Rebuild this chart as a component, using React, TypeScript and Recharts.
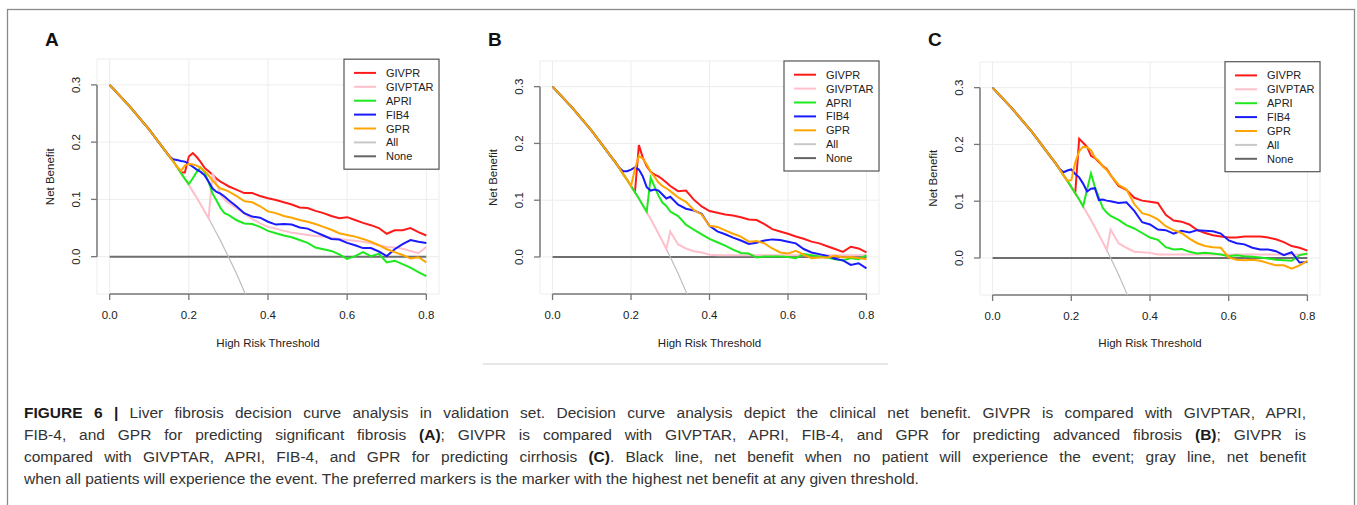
import React from "react";
import { LineChart, Line, XAxis, YAxis, CartesianGrid, ReferenceLine } from "recharts";

const FONT = "'Liberation Sans', Arial, Helvetica, sans-serif";

// high risk thresholds shared by every curve
const thresholds = [
  0, 0.05, 0.1, 0.15, 0.16, 0.17, 0.18, 0.19, 0.2, 0.21, 0.22, 0.23, 0.24, 0.25, 0.26, 0.27,
  0.28, 0.29, 0.3, 0.32, 0.34, 0.36, 0.38, 0.4, 0.42, 0.44, 0.46, 0.48, 0.5, 0.52, 0.54, 0.56,
  0.58, 0.6, 0.62, 0.64, 0.66, 0.68, 0.7, 0.72, 0.74, 0.76, 0.78, 0.8,
];

// "All" (treat everyone) curve, same in the three panels
const allValues = [
  0.3, 0.263, 0.222, 0.176, 0.167, 0.157, 0.146, 0.136, 0.125, 0.114, 0.103, 0.091, 0.079, 0.067,
  0.054, 0.041, 0.028, 0.014, 0.0, -0.029, -0.061, -0.094, null, null, null, null, null, null,
  null, null, null, null, null, null, null, null, null, null, null, null, null, null, null, null,
];

// "None" curve
const noneX = [0, 0.8];
const noneY = [0, 0];

// panel A - significant fibrosis
const aGIVPR = [
  0.3, 0.263, 0.222, 0.176, 0.167, 0.157, 0.147, 0.147, 0.175, 0.181, 0.174, 0.165, 0.155, 0.149,
  0.143, 0.136, 0.131, 0.127, 0.123, 0.117, 0.111, 0.111, 0.106, 0.102, 0.099, 0.095, 0.091,
  0.086, 0.085, 0.08, 0.076, 0.071, 0.067, 0.069, 0.064, 0.059, 0.055, 0.05, 0.04, 0.046, 0.046,
  0.05, 0.043, 0.037,
];
const aGIVPTAR = [
  0.3, 0.263, 0.222, 0.176, 0.167, 0.157, 0.146, 0.136, 0.125, 0.114, 0.103, 0.091, 0.079, 0.067,
  0.146, 0.127, 0.108, 0.1, 0.094, 0.085, 0.075, 0.066, 0.058, 0.052, 0.049, 0.045, 0.042, 0.04,
  0.038, 0.036, 0.035, 0.033, 0.031, 0.029, 0.028, 0.026, 0.024, 0.02, 0.017, 0.016, 0.014, 0.01,
  0.006, 0.017,
];
const aAPRI = [
  0.3, 0.263, 0.222, 0.176, 0.167, 0.157, 0.146, 0.136, 0.127, 0.137, 0.148, 0.156, 0.147, 0.13,
  0.11, 0.098, 0.085, 0.076, 0.073, 0.064, 0.058, 0.057, 0.052, 0.045, 0.041, 0.037, 0.034, 0.029,
  0.024, 0.016, 0.013, 0.01, 0.004, -0.004, 0.001, 0.008, 0.001, 0.005, -0.01, -0.007, -0.013,
  -0.019, -0.027, -0.034,
];
const aFIB4 = [
  0.3, 0.263, 0.222, 0.176, 0.17, 0.169, 0.167, 0.166, 0.162, 0.157, 0.152, 0.148, 0.142, 0.131,
  0.119, 0.113, 0.11, 0.105, 0.099, 0.088, 0.076, 0.07, 0.068, 0.061, 0.056, 0.057, 0.056, 0.051,
  0.049, 0.043, 0.037, 0.031, 0.03, 0.024, 0.02, 0.015, 0.015, 0.009, 0.001, 0.013, 0.022, 0.029,
  0.026, 0.024,
];
const aGPR = [
  0.3, 0.263, 0.222, 0.176, 0.167, 0.157, 0.15, 0.159, 0.162, 0.161, 0.159, 0.155, 0.149, 0.142,
  0.133, 0.125, 0.119, 0.117, 0.114, 0.106, 0.097, 0.095, 0.088, 0.079, 0.076, 0.071, 0.068,
  0.064, 0.061, 0.057, 0.052, 0.047, 0.041, 0.038, 0.035, 0.031, 0.026, 0.02, 0.013, 0.008, 0.003,
  -0.003, -0.001, -0.01,
];

// panel B - advanced fibrosis
const bGIVPR = [
  0.3, 0.263, 0.222, 0.176, 0.167, 0.157, 0.146, 0.136, 0.125, 0.114, 0.197, 0.175, 0.16, 0.15,
  0.145, 0.142, 0.137, 0.131, 0.125, 0.116, 0.117, 0.101, 0.089, 0.081, 0.078, 0.075, 0.073, 0.07,
  0.066, 0.065, 0.058, 0.049, 0.045, 0.041, 0.036, 0.032, 0.027, 0.024, 0.019, 0.014, 0.009,
  0.018, 0.015, 0.008,
];
const bGIVPTAR = [
  0.3, 0.263, 0.222, 0.176, 0.167, 0.157, 0.146, 0.136, 0.125, 0.114, 0.103, 0.091, 0.079, 0.067,
  0.054, 0.041, 0.028, 0.014, 0.045, 0.022, 0.015, 0.01, 0.008, 0.004, 0.003, 0.003, 0.003, 0.003,
  0.003, 0.003, 0.003, 0.003, 0.003, 0.003, 0.003, 0.003, 0.003, 0.003, 0.003, 0.003, 0.003,
  0.003, 0.003, 0.003,
];
const bAPRI = [
  0.3, 0.263, 0.222, 0.176, 0.167, 0.157, 0.146, 0.136, 0.125, 0.114, 0.103, 0.091, 0.08, 0.14,
  0.124, 0.108, 0.096, 0.09, 0.08, 0.072, 0.057, 0.048, 0.04, 0.032, 0.026, 0.02, 0.013, 0.007,
  0.006, -0.001, 0.001, 0.001, 0.001, 0.0, -0.002, 0.005, 0.003, 0.001, -0.001, -0.004, -0.006,
  -0.002, -0.004, 0.003,
];
const bFIB4 = [
  0.3, 0.263, 0.222, 0.176, 0.167, 0.157, 0.151, 0.151, 0.154, 0.158, 0.154, 0.142, 0.123, 0.117,
  0.119, 0.117, 0.11, 0.103, 0.106, 0.092, 0.085, 0.082, 0.076, 0.055, 0.045, 0.04, 0.034, 0.029,
  0.023, 0.025, 0.029, 0.031, 0.03, 0.027, 0.024, 0.014, 0.008, 0.005, 0.002, -0.003, -0.006,
  -0.014, -0.011, -0.02,
];
const bGPR = [
  0.3, 0.263, 0.222, 0.176, 0.167, 0.157, 0.146, 0.136, 0.125, 0.155, 0.178, 0.173, 0.163, 0.15,
  0.141, 0.131, 0.125, 0.121, 0.116, 0.105, 0.097, 0.083, 0.075, 0.055, 0.053, 0.047, 0.041,
  0.036, 0.027, 0.028, 0.024, 0.015, 0.008, 0.006, 0.011, 0.004, -0.002, -0.001, -0.001, 0.002,
  -0.001, 0.0, -0.002, -0.004,
];

// panel C - cirrhosis
const cGIVPR = [
  0.3, 0.263, 0.222, 0.176, 0.167, 0.157, 0.146, 0.136, 0.125, 0.114, 0.21, 0.203, 0.196, 0.18,
  0.176, 0.169, 0.162, 0.157, 0.146, 0.127, 0.12, 0.106, 0.101, 0.099, 0.097, 0.076, 0.066, 0.064,
  0.059, 0.049, 0.044, 0.04, 0.038, 0.036, 0.036, 0.038, 0.038, 0.038, 0.036, 0.033, 0.028,
  0.021, 0.018, 0.013,
];
const cGIVPTAR = [
  0.3, 0.263, 0.222, 0.176, 0.167, 0.157, 0.146, 0.136, 0.125, 0.114, 0.103, 0.091, 0.079, 0.067,
  0.054, 0.041, 0.028, 0.014, 0.05, 0.026, 0.018, 0.011, 0.01, 0.009, 0.006, 0.006, 0.006, 0.006,
  0.006, 0.006, 0.006, 0.006, 0.006, 0.006, 0.006, 0.006, 0.006, 0.006, 0.006, 0.006, 0.006,
  0.006, 0.006, 0.006,
];
const cAPRI = [
  0.3, 0.263, 0.222, 0.176, 0.167, 0.157, 0.146, 0.136, 0.125, 0.114, 0.103, 0.091, 0.12, 0.149,
  0.125, 0.107, 0.088, 0.08, 0.074, 0.067, 0.058, 0.052, 0.044, 0.036, 0.032, 0.019, 0.015, 0.016,
  0.011, 0.008, 0.009, 0.008, 0.006, 0.003, 0.005, 0.003, 0.002, 0.001, -0.001, -0.003, -0.004,
  -0.005, 0.005, 0.008,
];
const cFIB4 = [
  0.3, 0.263, 0.222, 0.176, 0.167, 0.157, 0.151, 0.154, 0.156, 0.148, 0.142, 0.131, 0.117, 0.122,
  0.123, 0.102, 0.103, 0.101, 0.1, 0.097, 0.098, 0.083, 0.063, 0.059, 0.05, 0.049, 0.043, 0.048,
  0.045, 0.049, 0.048, 0.047, 0.043, 0.031, 0.026, 0.024, 0.018, 0.015, 0.015, 0.012, 0.005, 0.01,
  -0.008, -0.007,
];
const cGPR = [
  0.3, 0.263, 0.222, 0.176, 0.167, 0.157, 0.146, 0.136, 0.137, 0.168, 0.188, 0.196, 0.195, 0.19,
  0.177, 0.171, 0.161, 0.155, 0.146, 0.129, 0.121, 0.095, 0.079, 0.075, 0.068, 0.056, 0.049, 0.044,
  0.034, 0.026, 0.021, 0.019, 0.018, 0.001, -0.003, -0.004, -0.003, -0.005, -0.009, -0.013,
  -0.013, -0.019, -0.013, -0.005,
];

const xTicks = [0, 0.2, 0.4, 0.6, 0.8];
const yTicks = [0, 0.1, 0.2, 0.3];
const X_DOMAIN = [-0.032, 0.832];
const Y_DOMAIN = [-0.0652, 0.3452];

const MODELS = [
  { key: "GIVPR", color: "#ff1a1a" },
  { key: "GIVPTAR", color: "#ffc0cb" },
  { key: "APRI", color: "#1ee81e" },
  { key: "FIB4", color: "#1a1aff" },
  { key: "GPR", color: "#ffa500" },
];
const LEGEND = [...MODELS, { key: "All", color: "#c8c8c8" }, { key: "None", color: "#666666" }];

const PANELS = [
  { label: "A", left: 97, top: 59.2, w: 342, h: 235, series: [aGIVPR, aGIVPTAR, aAPRI, aFIB4, aGPR] },
  { label: "B", left: 540, top: 61, w: 339, h: 233, series: [bGIVPR, bGIVPTAR, bAPRI, bFIB4, bGPR] },
  { label: "C", left: 980, top: 61.7, w: 340, h: 233, series: [cGIVPR, cGIVPTAR, cAPRI, cFIB4, cGPR] },
];

function RotTick(props: any) {
  const { x, y, payload } = props;
  return (
    <text x={x} y={y} transform={`rotate(-90 ${x} ${y})`} textAnchor="middle" fontSize={11.5} fill="#222" fontFamily={FONT}>
      {Number(payload.value).toFixed(1)}
    </text>
  );
}

function Panel({ p }: { p: (typeof PANELS)[number] }) {
  const rows = thresholds.map((t, i) => {
    const r: Record<string, number | null> = { t, All: allValues[i] };
    MODELS.forEach((m, j) => (r[m.key] = p.series[j][i]));
    return r;
  });
  const noneRows = noneX.map((t, i) => ({ t, None: noneY[i] }));

  return (
    <div style={{ position: "absolute", left: p.left - 70, top: p.top - 45, fontFamily: FONT }}>
      <LineChart width={p.w + 100} height={p.h + 126} data={rows} margin={{ top: 45, right: 30, left: 30, bottom: 51 }}>
        <CartesianGrid stroke="#ededed" strokeWidth={1} />
        <XAxis
          type="number"
          dataKey="t"
          domain={X_DOMAIN}
          ticks={xTicks}
          allowDataOverflow
          axisLine={false}
          tickLine={{ stroke: "#777", strokeWidth: 1.3 }}
          tickSize={6}
          tickMargin={11}
          height={30}
          tick={{ fontSize: 11.5, fill: "#222", fontFamily: FONT }}
          tickFormatter={(v: number) => v.toFixed(1)}
        />
        <YAxis
          type="number"
          domain={Y_DOMAIN}
          ticks={yTicks}
          allowDataOverflow
          axisLine={false}
          tickLine={{ stroke: "#777", strokeWidth: 1.3 }}
          tickSize={6}
          tickMargin={11}
          width={40}
          tick={<RotTick />}
        />
        <ReferenceLine
          segment={[{ x: 0, y: Y_DOMAIN[0] }, { x: 0.8, y: Y_DOMAIN[0] }]}
          stroke="#777"
          strokeWidth={1.5}
          ifOverflow="visible"
        />
        <ReferenceLine
          segment={[{ x: X_DOMAIN[0], y: 0 }, { x: X_DOMAIN[0], y: 0.3 }]}
          stroke="#777"
          strokeWidth={1.5}
          ifOverflow="visible"
        />
        <Line data={noneRows} dataKey="None" type="linear" stroke="#6e6e6e" strokeWidth={2} dot={false} isAnimationActive={false} />
        <Line dataKey="All" type="linear" stroke="#bdbdbd" strokeWidth={1.2} dot={false} isAnimationActive={false} />
        {MODELS.map((m) => (
          <Line key={m.key} dataKey={m.key} type="linear" stroke={m.color} strokeWidth={2} dot={false} isAnimationActive={false} />
        ))}
      </LineChart>
    </div>
  );
}

function Overlay() {
  return (
    <svg width={1357} height={505} style={{ position: "absolute", left: 0, top: 0, pointerEvents: "none" }} fontFamily={FONT}>
      <rect x={7.5} y={9.5} width={1347} height={620} fill="none" stroke="#8a8a8a" strokeWidth={1.3} />
      <line x1={483} y1={364} x2={888} y2={364} stroke="#cfcfcf" strokeWidth={1.2} />
      {PANELS.map((p) => {
        const lx = p.left + p.w - 95;
        return (
          <g key={p.label}>
            <text x={p.left - 52} y={45.7} fontSize={19} fontWeight="bold" fill="#111">
              {p.label}
            </text>
            <text
              transform={`translate(${p.left - 43.3}, ${p.top + p.h / 2}) rotate(-90)`}
              textAnchor="middle"
              fontSize={11.5}
              fill="#222"
            >
              Net Benefit
            </text>
            <text x={p.left + p.w / 2} y={347} textAnchor="middle" fontSize={11.5} fill="#222">
              High Risk Threshold
            </text>
            <rect x={lx} y={p.top} width={95} height={110} fill="#fff" stroke="#555" strokeWidth={1.2} />
            {LEGEND.map((l, i) => {
              const y = p.top + 13.7 + i * 13.9;
              return (
                <g key={l.key}>
                  <line x1={lx + 10} y1={y} x2={lx + 32} y2={y} stroke={l.color} strokeWidth={2} />
                  <text x={lx + 42} y={y + 4} fontSize={11} fill="#222">
                    {l.key}
                  </text>
                </g>
              );
            })}
          </g>
        );
      })}
    </svg>
  );
}

function Caption() {
  const b: React.CSSProperties = { fontWeight: "bold", color: "#1a1a1a" };
  const line: React.CSSProperties = {
    height: 21.8,
    lineHeight: "21.8px",
    whiteSpace: "nowrap",
  };
  const just: React.CSSProperties = { ...line, textAlign: "justify", textAlignLast: "justify", whiteSpace: "normal" };
  return (
    <div style={{ position: "absolute", left: 24, top: 402.3, width: 1282, fontSize: 15.5, color: "#333", fontFamily: FONT }}>
      <div style={just}>
        <span style={b}>FIGURE 6 |</span> Liver fibrosis decision curve analysis in validation set. Decision curve analysis depict the clinical net benefit. GIVPR is compared with GIVPTAR, APRI,
      </div>
      <div style={just}>
        FIB-4, and GPR for predicting significant fibrosis <span style={b}>(A)</span>; GIVPR is compared with GIVPTAR, APRI, FIB-4, and GPR for predicting advanced fibrosis <span style={b}>(B)</span>; GIVPR is
      </div>
      <div style={just}>
        compared with GIVPTAR, APRI, FIB-4, and GPR for predicting cirrhosis <span style={b}>(C)</span>. Black line, net benefit when no patient will experience the event; gray line, net benefit
      </div>
      <div style={line}>
        when all patients will experience the event. The preferred markers is the marker with the highest net benefit at any given threshold.
      </div>
    </div>
  );
}

export default function App() {
  return (
    <div style={{ position: "absolute", left: 0, top: 0, width: 1357, height: 505, overflow: "hidden", background: "#fff", fontFamily: FONT }}>
      {PANELS.map((p) => (
        <Panel key={p.label} p={p} />
      ))}
      <Overlay />
      <Caption />
    </div>
  );
}
